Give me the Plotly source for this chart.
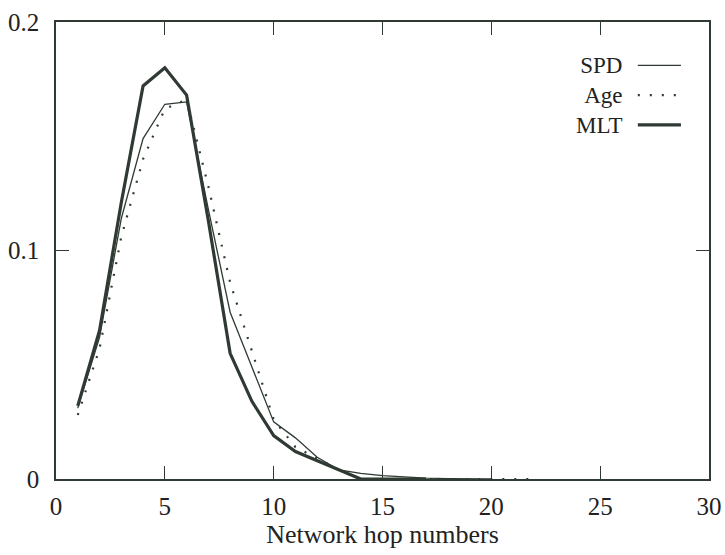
import plotly.graph_objects as go

hops_spd = [1, 2, 3, 4, 5, 6, 7, 8, 9, 10, 11, 12, 13, 14, 15, 16, 17, 18, 19, 20]
spd = [0.031, 0.062, 0.114, 0.149, 0.164, 0.165, 0.118, 0.073, 0.049, 0.025, 0.018, 0.0095, 0.004, 0.0025, 0.0015, 0.0008, 0.0004, 0.0002, 0.0001, 0.0]

hops_age = [1, 2, 3, 4, 5, 6, 7, 8, 9, 10, 11, 12, 13, 14, 15, 16, 17, 18, 19, 20, 21, 22]
age = [0.028, 0.057, 0.106, 0.140, 0.162, 0.166, 0.128, 0.086, 0.056, 0.026, 0.014, 0.009, 0.004, 0.0, 0.0, 0.0, 0.0, 0.0, 0.0, 0.0, 0.0, 0.0]

hops_mlt = [1, 2, 3, 4, 5, 6, 7, 8, 9, 10, 11, 12, 13, 14, 15, 16, 17]
mlt = [0.032, 0.065, 0.121, 0.172, 0.180, 0.168, 0.113, 0.055, 0.034, 0.019, 0.012, 0.008, 0.004, 0.0, 0.0, 0.0, 0.0]

x_ticks = [0, 5, 10, 15, 20, 25, 30]
y_ticks = [0, 0.1, 0.2]
y_tick_text = ["0", "0.1", "0.2"]
series_names = ["SPD", "Age", "MLT"]

INK = "#2f3a33"
FONT = "Liberation Serif"
DOTS = "2px,10px"

fig = go.Figure()
fig.add_trace(go.Scatter(x=hops_spd, y=spd, mode="lines", name=series_names[0],
                         line=dict(color=INK, width=1.3), showlegend=False))
fig.add_trace(go.Scatter(x=hops_age, y=age, mode="lines", name=series_names[1],
                         line=dict(color=INK, width=2.2, dash=DOTS), showlegend=False))
fig.add_trace(go.Scatter(x=hops_mlt, y=mlt, mode="lines", name=series_names[2],
                         line=dict(color=INK, width=3.2), showlegend=False))

# custom legend: right-aligned text block, sample lines to the right
LEG_FS = 23
fig.add_annotation(x=0.868, y=0.840, xref="paper", yref="paper",
                   text="<br>".join(series_names), align="right",
                   showarrow=False, xanchor="right", yanchor="middle", borderpad=0,
                   font=dict(family=FONT, size=LEG_FS, color="#222"))
step = 1.3 * LEG_FS / 459.0
leg_y = [0.840 + step, 0.840, 0.840 - step]
leg_styles = [dict(width=1.3), dict(width=2.2, dash=DOTS), dict(width=3.2)]
for yy, st in zip(leg_y, leg_styles):
    fig.add_shape(type="line", xref="paper", yref="paper", x0=0.891, x1=0.957,
                  y0=yy, y1=yy, line=dict(color=INK, **st))

fig.update_layout(
    width=725, height=555,
    margin=dict(l=56, r=16, t=22, b=76),
    paper_bgcolor="white", plot_bgcolor="white",
    font=dict(family=FONT, size=25, color="#222"),
    xaxis=dict(range=[0, 30], tickvals=x_ticks, ticks="inside", ticklen=13,
               tickcolor=INK, tickwidth=1.2, showline=True, linecolor=INK, linewidth=1.5,
               mirror="ticks", showgrid=False, zeroline=False, automargin=False,
               tickfont=dict(family=FONT, size=25),
               title=dict(text="Network hop numbers", standoff=0,
                          font=dict(family=FONT, size=26)),
               ticklabelstandoff=4),
    yaxis=dict(range=[0, 0.2], tickvals=y_ticks, ticktext=y_tick_text, ticks="inside",
               ticklen=13, tickcolor=INK, tickwidth=1.2, showline=True, linecolor=INK,
               linewidth=1.5, mirror="ticks", showgrid=False, zeroline=False,
               automargin=False, tickfont=dict(family=FONT, size=25),
               ticklabelstandoff=10),
)

fig.write_html("out.html")
